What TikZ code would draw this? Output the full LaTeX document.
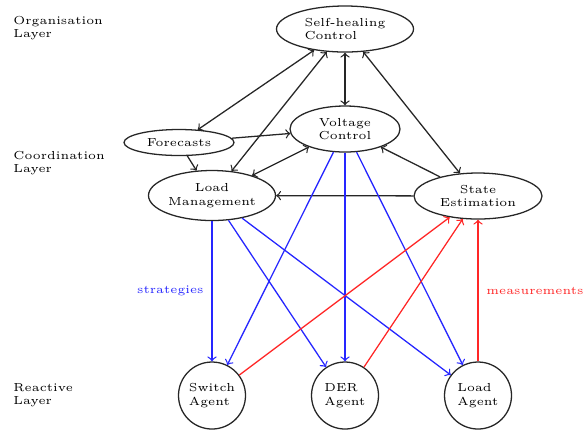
\documentclass[tikz,border=0pt]{standalone}
\usetikzlibrary{shapes.geometric}
\def\pxu{0.43pt}
\begin{document}
\begin{tikzpicture}[x=\pxu, y=-\pxu,
  every node/.style={font=\fontsize{5}{5.8}\selectfont},
  oval/.style={draw=black!85, ellipse, inner sep=0pt, line width=0.55pt},
  agent/.style={draw=black!85, circle, inner sep=0pt, minimum size={67*\pxu}, align=left, line width=0.55pt},
  layer/.style={anchor=west, align=left, inner sep=0pt},
  link/.style={line width=0.55pt, ->, black!85},
  both/.style={link, <->},
  plan/.style={link, blue!85},
  meas/.style={link, red!85}]
\useasboundingbox (0,0) rectangle (586,430);

% layer captions
\node[layer] (org)   at (13,28)  {Organisation\\Layer};
\node[layer] (coord) at (13,163) {Coordination\\Layer};
\node[layer] (react) at (13,395) {Reactive\\Layer};

% organisation and coordination functions
\node[oval, align=left, minimum width={137*\pxu}, minimum height={46*\pxu}] (sh) at (345,29) {Self-healing\\Control};
\node[oval, align=center, minimum width={110*\pxu}, minimum height={46*\pxu}] (vc) at (345,129) {Voltage\\Control};
\node[oval, minimum width={110*\pxu}, minimum height={26*\pxu}] (fc) at (179,142.5) {Forecasts};
\node[oval, align=center, minimum width={127*\pxu}, minimum height={50*\pxu}] (lm) at (212,195.5) {Load\\Management};
\node[oval, align=center, minimum width={128*\pxu}, minimum height={46*\pxu}] (se) at (478,196) {State\\Estimation};

% reactive agents
\node[agent] (sw)  at (212,395.5) {Switch\\Agent};
\node[agent] (der) at (345,395.5) {DER\\Agent};
\node[agent] (la)  at (478,395.5) {Load\\Agent};

% coordination links
\draw[both] (sh) -- (fc);
\draw[both] (sh) -- (lm);
\draw[both] (sh) -- (vc);
\draw[both] (sh) -- (se);
\draw[link] (fc) -- (vc);
\draw[link] (fc) -- (lm);
\draw[both] (lm) -- (vc);
\draw[link] (se) -- (vc);
\draw[link] (se) -- (lm);

% strategies sent down to the agents
\draw[plan] (lm) -- node[midway, left, text=blue!85] {strategies} (sw);
\draw[plan] (lm) -- (der);
\draw[plan] (lm) -- (la);
\draw[plan] (vc) -- (sw);
\draw[plan] (vc) -- (der);
\draw[plan] (vc) -- (la);

% measurements reported back
\draw[meas] (sw) -- (se);
\draw[meas] (der) -- (se);
\draw[meas] (la) -- node[midway, right, text=red!85] {measurements} (se);
\end{tikzpicture}
\end{document}
